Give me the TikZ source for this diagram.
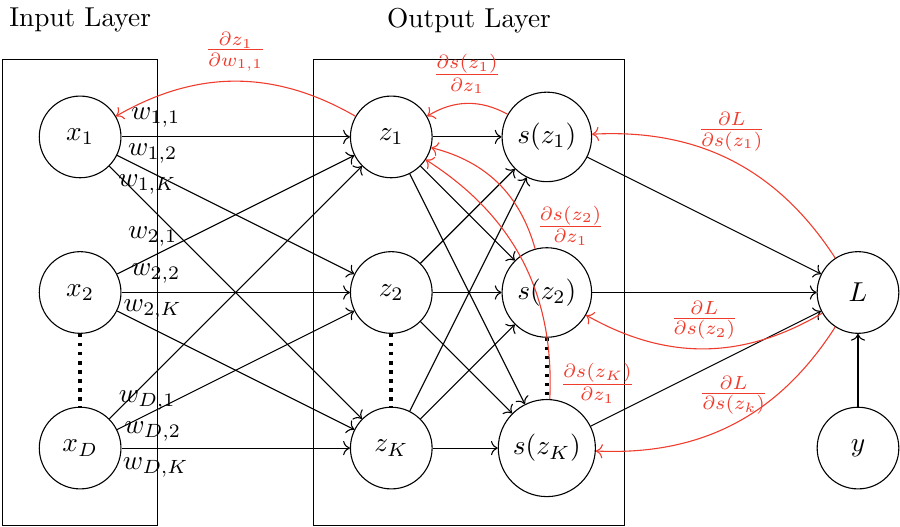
\documentclass[tikz,border=0pt]{standalone}
\usetikzlibrary{arrows.meta,positioning}
\definecolor{gradred}{RGB}{240,60,45}

\begin{document}
\begin{tikzpicture}[
  neuron/.style={draw, circle, minimum size=1.05cm},
  flow/.style={->},
  grad/.style={->, gradred},
  dots/.style={dotted, line width=1.3pt}
]
  \useasboundingbox (-0.03,1.76) rectangle (11.54,-5.01);

  % layers
  \draw (0,1) rectangle (2,-5);
  \draw (4,1) rectangle (8,-5);
  \node (intitle) at (1,1.5) {Input Layer};
  \node (outtitle) at (6,1.5) {Output Layer};

  % input nodes
  \node[neuron] (x1) at (1,0) {$x_1$};
  \node[neuron] (x2) at (1,-2) {$x_2$};
  \node[neuron] (xD) at (1,-4) {$x_D$};

  % output layer
  \node[neuron] (z1) at (5,0) {$z_1$};
  \node[neuron] (z2) at (5,-2) {$z_2$};
  \node[neuron] (zK) at (5,-4) {$z_K$};
  \node[neuron] (s1) at (7,0) {$s(z_1)$};
  \node[neuron] (s2) at (7,-2) {$s(z_2)$};
  \node[neuron] (sK) at (7,-4) {$s(z_K)$};

  % loss
  \node[neuron] (L) at (11,-2) {$L$};
  \node[neuron] (y) at (11,-4) {$y$};

  \foreach \i/\side in {1/above,2/above,D/below}
    \foreach \j in {1,2,K}
      \draw[flow] (x\i) -- node[pos=0.15, \side] {$w_{\i,\j}$} (z\j);
  \foreach \j in {1,2,K}
    \foreach \k in {1,2,K}
      \draw[flow] (z\j) -- (s\k);
  \foreach \k in {1,2,K}
    \draw[flow] (s\k) -- (L);
  \draw[flow] (y) -- (L);

  \draw[dots] (x2) -- (xD);
  \draw[dots] (z2) -- (zK);
  \draw[dots] (s2) -- (sK);

  % gradients
  \draw[grad] (z1) to[bend right] node[midway, above] {$\frac{\partial z_1}{\partial w_{1,1}}$} (x1);
  \draw[grad] (s1) to[bend right] node[midway, above] {$\frac{\partial s(z_1)}{\partial z_1}$} (z1);
  \draw[grad] (s2) to[bend right] node[pos=0.15, right] {$\frac{\partial s(z_2)}{\partial z_1}$} (z1);
  \draw[grad] (sK) to[bend right] node[pos=0.05, right] {$\frac{\partial s(z_K)}{\partial z_1}$} (z1);
  \draw[grad] (L) to[bend right] node[midway, above] {$\frac{\partial L}{\partial s(z_1)}$} (s1);
  \draw[grad] (L) to[bend left] node[midway, above] {$\frac{\partial L}{\partial s(z_2)}$} (s2);
  \draw[grad] (L) to[bend left] node[midway, above] {$\frac{\partial L}{\partial s(z_k)}$} (sK);
\end{tikzpicture}
\end{document}
